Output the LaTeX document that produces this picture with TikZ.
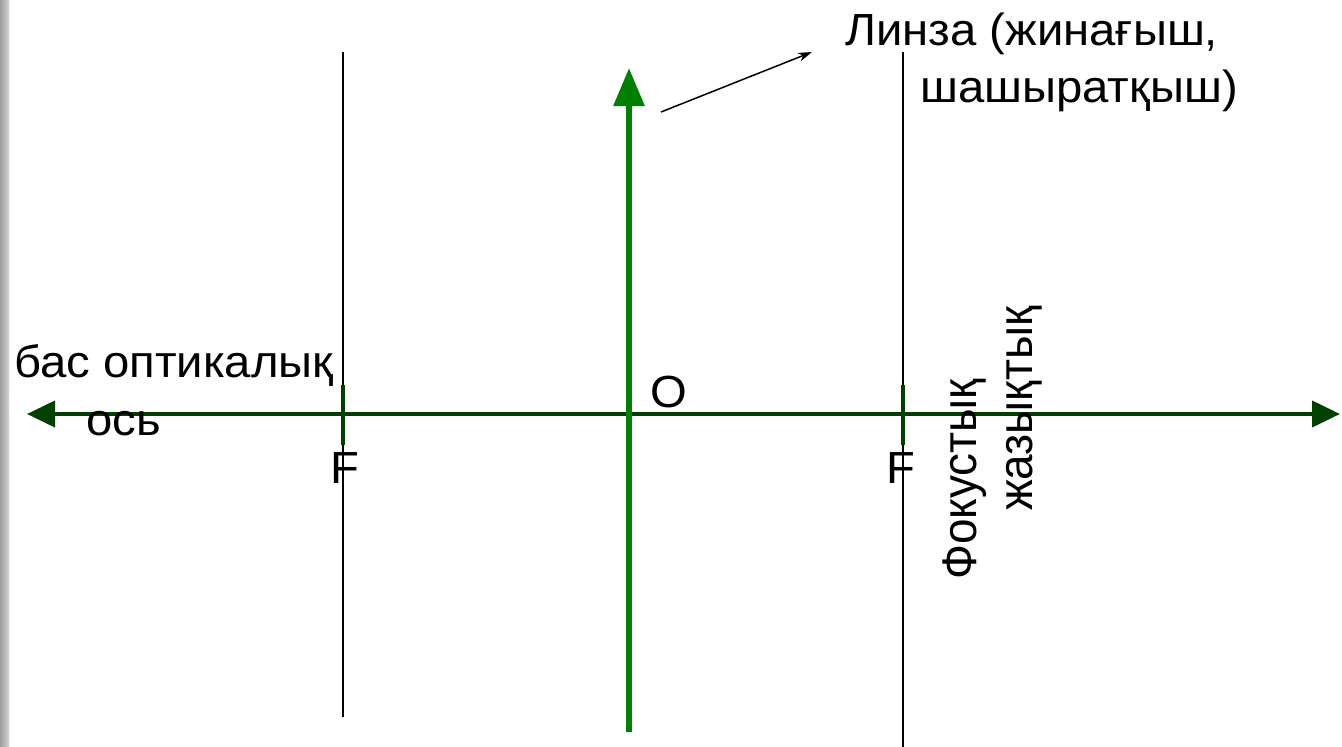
\documentclass[tikz,border=0pt]{standalone}
\usepackage{fontspec}
\setmainfont{Liberation Sans}
\usetikzlibrary{arrows.meta}
\definecolor{axisgreen}{RGB}{0,64,0}
\definecolor{lensgreen}{RGB}{0,128,0}
\begin{document}
\begin{tikzpicture}[x=1pt,y=-1pt,
  lbl/.style={inner sep=0pt, font=\fontsize{45}{54}\selectfont},
  hlbl/.style={lbl, xscale=1.05},
  vlbl/.style={lbl, rotate=90, yscale=1.08, xscale=1.02},
  focline/.style={black, line width=1.5pt},
  ftick/.style={axisgreen, line width=4pt},
  axisline/.style={axisgreen, line width=4pt, {Triangle[length=28pt,width=26pt]}-{Triangle[length=28pt,width=26pt]}},
  lensarrow/.style={lensgreen, line width=6pt, -{Triangle[length=38pt,width=30pt]}},
  pointer/.style={black, line width=1.5pt, -{Stealth[length=14pt,width=9pt]}}]
\useasboundingbox (0,0) rectangle (1342,747);
\fill[white] (0,0) rectangle (1342,747);
\shade[left color=gray!75, right color=gray!35] (0,0) rectangle (9,747);
% focal planes
\coordinate (f1t) at (343,52); \coordinate (f1b) at (343,717);
\coordinate (f2t) at (903,52); \coordinate (f2b) at (903,747);
\draw[focline] (f1t) -- (f1b);
\draw[focline] (f2t) -- (f2b);
% main axis
\coordinate (axL) at (27,414); \coordinate (axR) at (1340,414);
\draw[axisline] (axL) -- (axR);
% focus ticks
\coordinate (t1a) at (343,385); \coordinate (t1b) at (343,445);
\coordinate (t2a) at (903,385); \coordinate (t2b) at (903,445);
\draw[ftick] (t1a) -- (t1b);
\draw[ftick] (t2a) -- (t2b);
% lens
\coordinate (lensB) at (629,732); \coordinate (lensT) at (629,68);
\draw[lensarrow] (lensB) -- (lensT);
% labels
\node[hlbl, anchor=base west] (lens1) at (845,45) {Линза (жинағыш,};
\node[hlbl, anchor=base east] (lens2) at (1238,102) {шашыратқыш)};
\coordinate (pS) at (661,112); \coordinate (pE) at (812,52);
\draw[pointer] (pS) -- (pE);
\node[hlbl, anchor=base west] (axis1) at (14,377) {бас оптикалық};
\node[hlbl, anchor=base west] (axis2) at (86,435) {ось};
\node[hlbl, anchor=base west] (O) at (650,407) {O};
\node[hlbl, anchor=base] (F1) at (345,483) {F};
\node[hlbl, anchor=base] (F2) at (901,483) {F};
\node[vlbl, anchor=base west] (foc1) at (976,580) {Фокустық};
\node[vlbl, anchor=base west] (foc2) at (1032,511) {жазықтық};
\end{tikzpicture}
\end{document}
